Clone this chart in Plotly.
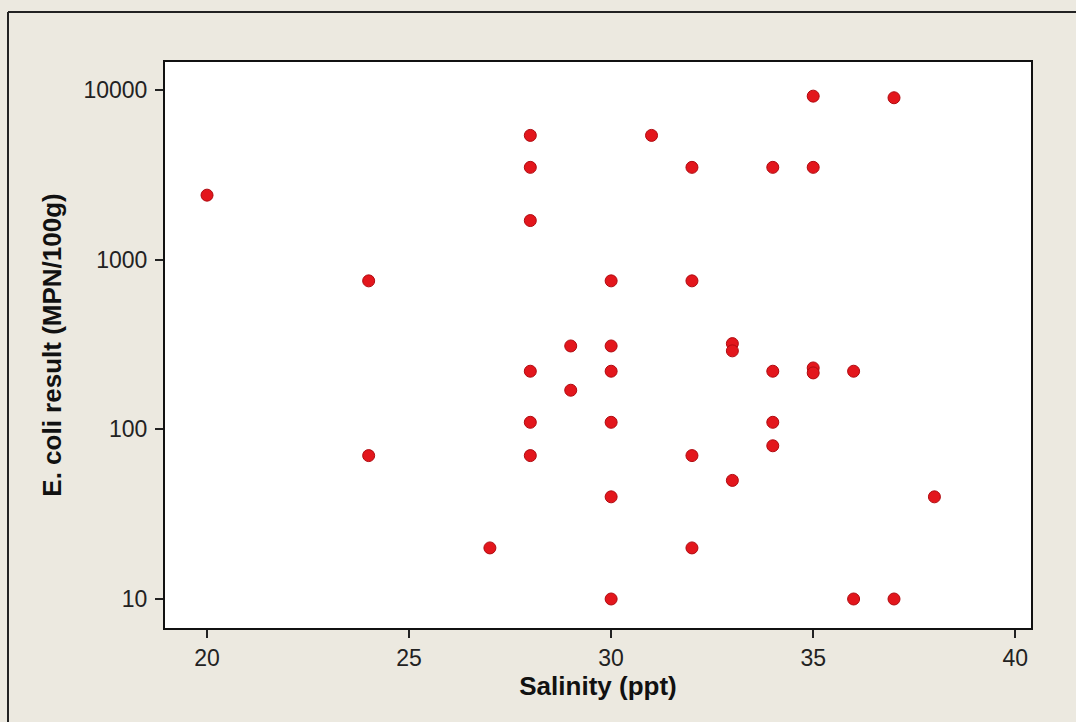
import plotly.graph_objects as go

salinity = [20, 24, 24, 27,
            28, 28, 28, 28, 28, 28,
            29, 29,
            30, 30, 30, 30, 30, 30,
            31,
            32, 32, 32, 32,
            33, 33, 33,
            34, 34, 34, 34,
            35, 35, 35, 35,
            36, 36,
            37, 37,
            38]
ecoli = [2400, 750, 70, 20,
         5400, 3500, 1700, 220, 110, 70,
         310, 170,
         750, 310, 220, 110, 40, 10,
         5400,
         3500, 750, 70, 20,
         320, 290, 50,
         3500, 220, 110, 80,
         9200, 3500, 230, 215,
         220, 10,
         9000, 10,
         40]

x_ticks = [20, 25, 30, 35, 40]
y_ticks = [10, 100, 1000, 10000]
y_ticklabels = ["10", "100", "1000", "10000"]

BG = "#ECE9E0"
FONT = "Liberation Sans"

fig = go.Figure()
fig.add_trace(go.Scatter(
    x=salinity, y=ecoli, mode="markers",
    marker=dict(color="#E3161C", size=12, line=dict(color="#B00A10", width=1)),
    showlegend=False,
))

axis_common = dict(
    showline=True, linecolor="#111111", linewidth=2, mirror=True,
    ticks="outside", ticklen=8, tickwidth=2, tickcolor="#222222",
    showgrid=False, zeroline=False,
    tickfont=dict(family=FONT, size=23, color="#222222"),
)

fig.update_layout(
    width=1076, height=722,
    margin=dict(l=165, r=45, t=62, b=94),
    paper_bgcolor=BG, plot_bgcolor="#FFFFFF",
    xaxis=dict(
        range=[18.96, 40.39], tickvals=x_ticks,
        title=dict(text="<b>Salinity (ppt)</b>",
                   font=dict(family=FONT, size=26, color="#111111"), standoff=6),
        **axis_common,
    ),
    yaxis=dict(
        type="log", range=[0.829, 4.165], tickvals=y_ticks, ticktext=y_ticklabels,
        ticklabelstandoff=3,
        title=dict(text="<b>E. coli result (MPN/100g)</b>",
                   font=dict(family=FONT, size=26, color="#111111"), standoff=14),
        **axis_common,
    ),
    shapes=[
        dict(type="line", xref="paper", yref="paper",
             x0=-157 / 866, x1=1.2, y0=1 + 50 / 566, y1=1 + 50 / 566,
             line=dict(color="#222222", width=2)),
        dict(type="line", xref="paper", yref="paper",
             x0=-157 / 866, x1=-157 / 866, y0=1 + 50 / 566, y1=-0.3,
             line=dict(color="#222222", width=2)),
    ],
)

fig.write_html("out.html")
